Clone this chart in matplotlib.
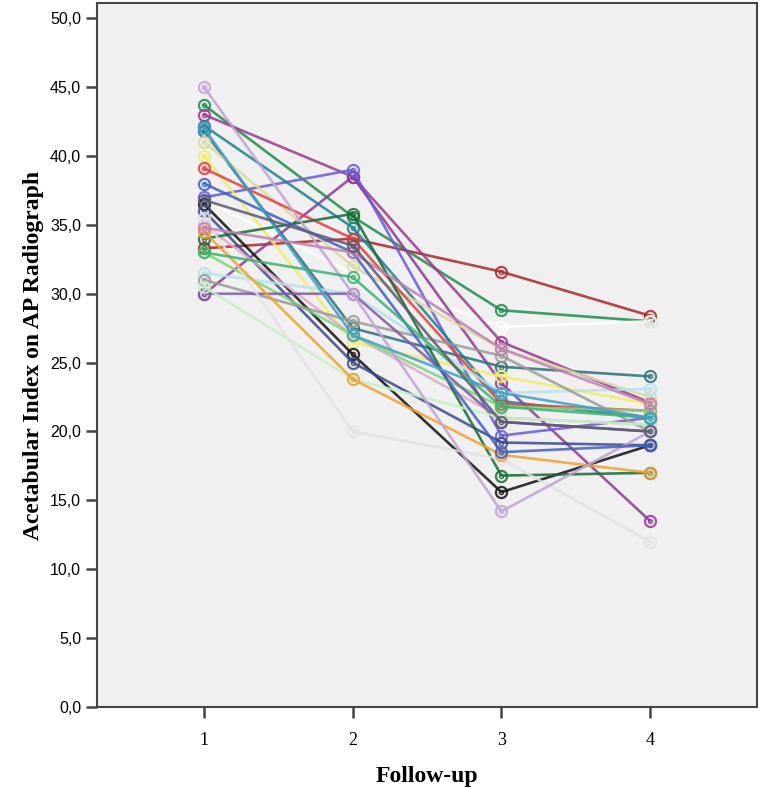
import matplotlib
matplotlib.use('Agg')
import matplotlib.pyplot as plt
from matplotlib.ticker import FuncFormatter

# follow-up visits
follow_up = [1, 2, 3, 4]

# acetabular index per patient, one colour each
patients = {
    'p01': ([33.3, 34.0, 31.6, 28.4], '#a8282c'),
    'p02': ([43.7, 35.6, 28.8, 28.0], '#1e8c4a'),
    'p03': ([36.8, 31.5, 27.6, 28.0], '#ffffff'),
    'p04': ([43.0, 38.5, 26.5, 22.1], '#9c3a8c'),
    'p05': ([30.0, 38.5, 23.5, 13.5], '#8e3a96'),
    'p06': ([37.0, 39.0, 19.7, 21.0], '#6a5ad8'),
    'p07': ([42.2, 34.8, 22.2, 21.0], '#1f7f92'),
    'p08': ([41.8, 27.5, 24.7, 24.0], '#2d6e7e'),
    'p09': ([40.0, 26.5, 24.0, 22.0], '#f2ec6a'),
    'p10': ([41.0, 32.0, 26.0, 22.5], '#dcd8a4'),
    'p11': ([39.1, 34.0, 22.0, 21.5], '#e04040'),
    'p12': ([36.5, 25.6, 15.6, 19.0], '#111111'),
    'p13': ([36.0, 25.0, 19.2, 19.0], '#3a4a8a'),
    'p14': ([35.0, 27.0, 21.0, 20.5], '#e4a8c8'),
    'p15': ([34.0, 35.8, 16.8, 17.0], '#176b38'),
    'p16': ([33.0, 27.0, 21.8, 21.5], '#7cd67c'),
    'p17': ([31.5, 30.0, 22.8, 23.1], '#b4e2ec'),
    'p18': ([31.0, 28.0, 25.5, 20.0], '#9a9a9a'),
    'p19': ([30.0, 30.0, 20.7, 20.0], '#7d5ba6'),
    'p20': ([30.5, 23.8, 21.0, 20.5], '#c4f2c4'),
    'p21': ([35.5, 20.0, 18.0, 12.0], '#e2e2e2'),
    'p22': ([34.5, 23.8, 18.3, 17.0], '#f0a030'),
    'p23': ([45.0, 30.0, 14.2, 20.0], '#c2a2d8'),
    'p24': ([38.0, 33.0, 18.5, 19.0], '#4060c0'),
    'p25': ([33.0, 31.2, 21.8, 21.0], '#3cb371'),
    'p26': ([42.0, 27.0, 22.8, 21.0], '#40a0c4'),
    'p27': ([34.8, 33.0, 26.0, 22.0], '#c080b0'),
    'p28': ([36.8, 33.5, 20.7, 20.0], '#5a5a6e'),
}

y_ticks = [0, 5, 10, 15, 20, 25, 30, 35, 40, 45, 50]

fig = plt.figure(figsize=(7.61, 7.87), dpi=100)
ax = fig.add_axes([0.1275, 0.1017, 0.8675, 0.8943])
ax.set_facecolor('#f0f0f0')

for name, (vals, col) in patients.items():
    ax.plot(follow_up, vals, color=col, lw=1.9, marker='o', ms=8,
            mfc='none', mec=col, mew=1.6, alpha=0.85)
    ax.plot(follow_up, vals, ls='none', marker='o', ms=3,
            mfc='none', mec=col, mew=1.0, alpha=0.85)

ax.set_xlim(0.28, 4.72)
ax.set_ylim(0, 51.1)
ax.set_xticks(follow_up)
ax.set_yticks(y_ticks)
ax.yaxis.set_major_formatter(FuncFormatter(lambda v, p: f'{v:.1f}'.replace('.', ',')))

for s in ax.spines.values():
    s.set_color('#444444')
    s.set_linewidth(1.5)
ax.tick_params(axis='both', direction='out', length=8, width=1.8, color='#444444')
for lbl in ax.get_yticklabels():
    lbl.set_family('Liberation Sans')
    lbl.set_fontsize(11.5)
for lbl in ax.get_xticklabels():
    lbl.set_family('Liberation Serif')
    lbl.set_fontsize(13)
ax.tick_params(axis='x', pad=10)

ax.set_xlabel('Follow-up', family='Liberation Serif', fontweight='bold',
              fontsize=17, labelpad=12)
ax.set_ylabel('Acetabular Index on AP Radiograph', family='Liberation Serif',
              fontweight='bold', fontsize=17, labelpad=4)

fig.savefig('out.png', dpi=100)
